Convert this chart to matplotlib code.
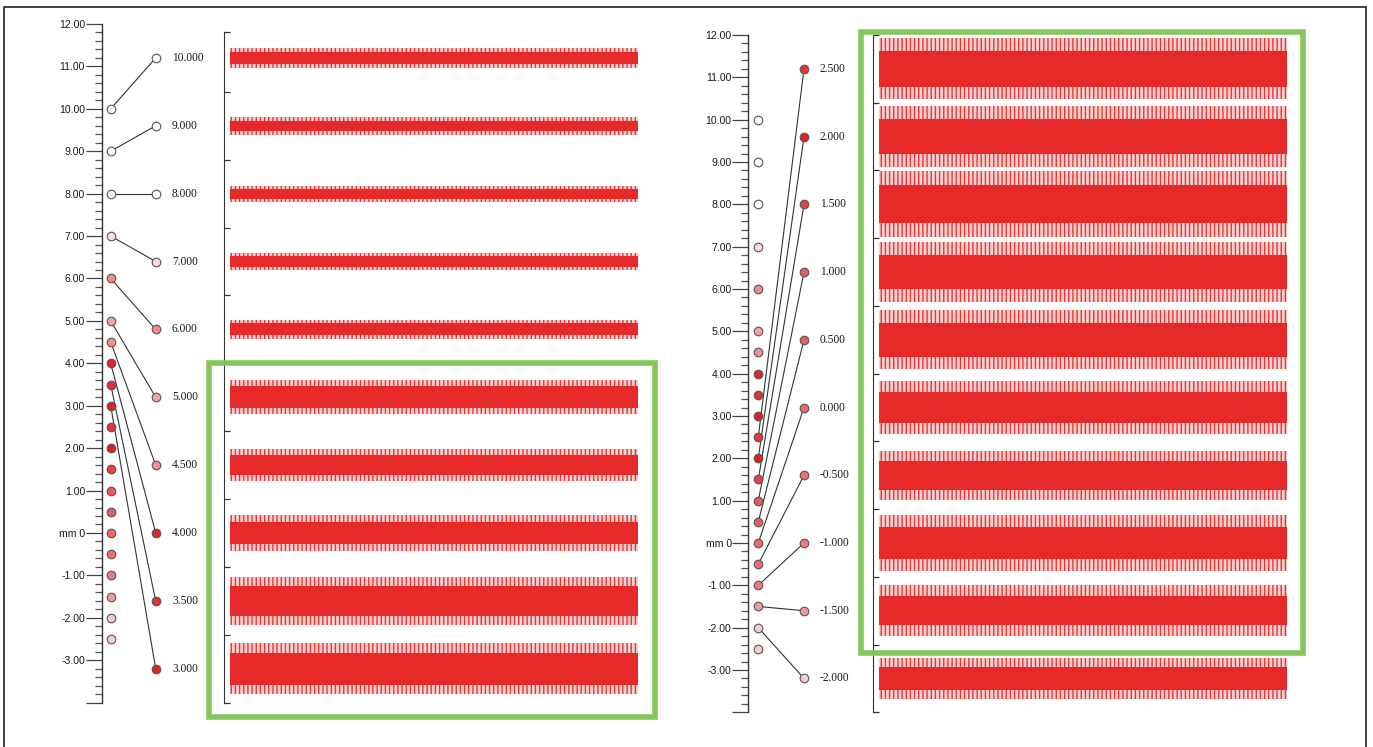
import matplotlib
matplotlib.use("Agg")
import matplotlib.pyplot as plt
from matplotlib.patches import Rectangle
from matplotlib.ticker import MultipleLocator, FixedLocator
import numpy as np

plt.rcParams['hatch.linewidth'] = 1.0

W, H = 1373, 747

# circles on the ruler (mm) and their fill colours
ruler_vals = [10, 9, 8, 7, 6, 5, 4.5, 4, 3.5, 3, 2.5, 2, 1.5, 1, 0.5, 0,
              -0.5, -1, -1.5, -2, -2.5]
ruler_cols = ['#ffffff', '#ffffff', '#ffffff', '#fadcdc', '#f28b8b', '#f5a3a3',
              '#f09090', '#e42424', '#e43030', '#e42020', '#e43535', '#e21e1e',
              '#e64040', '#eb5a5a', '#eb5c5c', '#ee6a6a', '#ee6e6e', '#f07a7a',
              '#f29a9a', '#f8cccc', '#f8cccc']

# trace centres (mm) - same for both panels
trace_pos = [11.2, 9.6, 8.0, 6.4, 4.8, 3.2, 1.6, 0.0, -1.6, -3.2]

left_labels = [10, 9, 8, 7, 6, 5, 4.5, 4, 3.5, 3]
right_labels = [2.5, 2, 1.5, 1, 0.5, 0, -0.5, -1, -1.5, -2]

# half height of the noise band (mm): dense core and peaks
left_core = [0.14, 0.12, 0.12, 0.12, 0.14, 0.26, 0.24, 0.26, 0.36, 0.38]
left_peak = [0.24, 0.21, 0.19, 0.19, 0.23, 0.40, 0.38, 0.42, 0.56, 0.60]
right_core = [0.42, 0.42, 0.45, 0.40, 0.40, 0.36, 0.34, 0.38, 0.34, 0.28]
right_peak = [0.72, 0.72, 0.78, 0.70, 0.70, 0.62, 0.58, 0.66, 0.60, 0.48]

fig = plt.figure(figsize=(W / 100, H / 100), dpi=100)


def fx(px):
    return px / W


def fy(py):
    return 1 - py / H


def panel(ruler_x, circ_x, lab_circ_x, lab_x, trace_x, trace_end,
          y_top, y_bot, labels, core, peak, trace_top):
    # y_top / y_bot: pixel rows of 12 mm and -4 mm
    bottom = fy(y_bot)
    height = fy(y_top) - bottom
    ax = fig.add_axes([fx(ruler_x), bottom, fx(trace_x - ruler_x), height])
    ax.set_xlim(0, trace_x - ruler_x)
    ax.set_ylim(-4, 12)
    for s in ['top', 'right', 'bottom']:
        ax.spines[s].set_visible(False)
    ax.spines['left'].set_color('#333333')
    ax.spines['left'].set_linewidth(1)
    ax.set_xticks([])
    ax.yaxis.set_major_locator(MultipleLocator(1))
    ax.yaxis.set_minor_locator(MultipleLocator(0.2))
    ax.tick_params(axis='y', which='major', direction='out', length=11.5,
                   width=0.9, color='#444444', pad=0.5, labelsize=7.6,
                   labelcolor='#1a1a1a')
    ax.tick_params(axis='y', which='minor', direction='out', length=5,
                   width=0.9, color='#555555')
    ticks = np.arange(-4, 13)
    ax.set_yticks(ticks)
    ax.set_yticklabels(['' if t == -4 else ('mm 0' if t == 0 else f'{t:.2f}')
                        for t in ticks], family='Liberation Sans')

    cx = circ_x - ruler_x
    lx = lab_circ_x - ruler_x
    col = dict(zip(ruler_vals, ruler_cols))
    for v, p in zip(labels, trace_pos):
        ax.plot([cx, lx], [v, p], color='#333333', lw=0.8, zorder=2)
        ax.plot(lx, p, 'o', ms=6.2, mfc=col[v], mec='#555555', mew=0.8,
                zorder=3)
        ax.text(lab_x - ruler_x, p, f'{v:.3f}', family='Liberation Serif',
                fontsize=8.3, color='#1a1a1a', va='center', ha='left')
    for v, c in zip(ruler_vals, ruler_cols):
        ax.plot(cx, v, 'o', ms=6.2, mfc=c, mec='#555555', mew=0.8, zorder=3)

    # traces
    tx = fig.add_axes([fx(trace_x), bottom, fx(trace_end - trace_x), height])
    tx.set_ylim(-4, 12)
    x0 = -6 / (trace_end - (trace_x + 6))
    tx.set_xlim(x0, 1)
    for s in ['top', 'right', 'bottom']:
        tx.spines[s].set_visible(False)
    tx.spines['left'].set_bounds(-4, trace_top)
    tx.spines['left'].set_color('#333333')
    tx.set_xticks([])
    bounds = [-4.0] + [p - 0.8 for p in trace_pos[::-1]][1:] + [trace_top]
    tx.yaxis.set_major_locator(FixedLocator(bounds))
    tx.set_yticklabels([])
    tx.tick_params(axis='y', direction='in', length=4.5, width=0.9,
                   color='#333333')
    xs = [0, 1]
    for p, c, k in zip(trace_pos, core, peak):
        tx.fill_between(xs, p - k, p + k, facecolor='#f9d0d0',
                        edgecolor='#e83636', hatch='||||', linewidth=0.01)
        tx.fill_between(xs, p - c, p + c, facecolor='#e62a2a',
                        edgecolor='#e62a2a', linewidth=0.01)
    return ax, tx


panel(101.7, 110.7, 155.7, 172, 224.3, 638, 24, 702.6,
      left_labels, left_core, left_peak, 11.8)
panel(748.3, 758.3, 804, 820, 872.7, 1287, 35, 712.3,
      right_labels, right_core, right_peak, 12.0)

# green highlight boxes
green = '#84c65c'
fig.patches.append(Rectangle((fx(209), fy(717)), fx(655 - 209), fy(363) - fy(717),
                             transform=fig.transFigure, fill=False,
                             edgecolor=green, lw=4, zorder=5))
fig.patches.append(Rectangle((fx(861), fy(653)), fx(1303 - 861), fy(32) - fy(653),
                             transform=fig.transFigure, fill=False,
                             edgecolor=green, lw=4, zorder=5))
# outer frame
fig.patches.append(Rectangle((fx(4), fy(760)), fx(1366 - 4), fy(7) - fy(760),
                             transform=fig.transFigure, fill=False,
                             edgecolor='#222222', lw=1.2, zorder=5))

fig.savefig('out.png', dpi=100)
